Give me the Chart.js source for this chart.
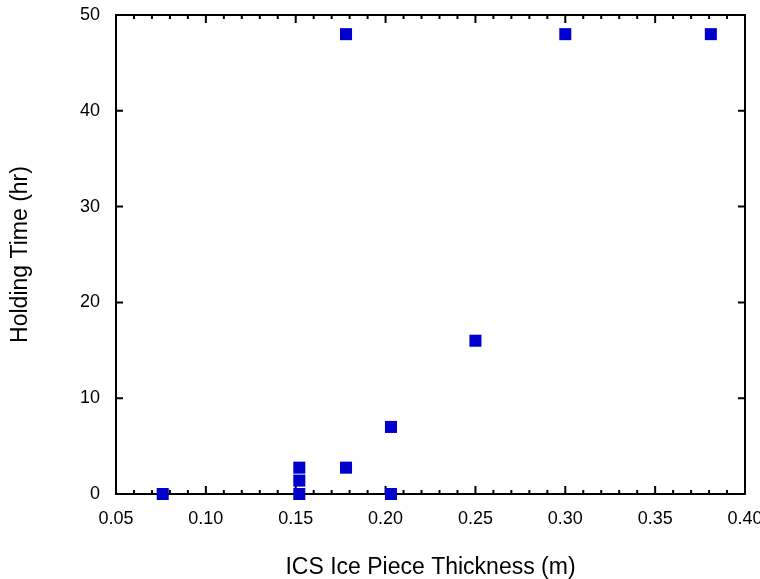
<!DOCTYPE html>
<html>
<head>
    <title>Holding Time vs Ice Piece Thickness</title>
    <script src="https://cdn.jsdelivr.net/npm/chart.js"></script>
    <style>
        body {
            margin: 0;
            background-color: #ffffff;
        }
        #wrap {
            width: 760px;
            height: 579px;
        }
    </style>
</head>
<body>
    <div id="wrap"><canvas id="holdingChart"></canvas></div>

    <script>
        // Data
        var thickness = [0.076, 0.152, 0.152, 0.152, 0.178, 0.178, 0.203, 0.203, 0.25, 0.30, 0.381];
        var holdingTime = [0, 0, 1.4, 2.75, 2.75, 48, 0, 7, 16, 48, 48];

        var xTitle = 'ICS Ice Piece Thickness (m)';
        var yTitle = 'Holding Time (hr)';

        var points = thickness.map(function(x, i) { return { x: x, y: holdingTime[i] }; });

        // Frame plus inward tick marks (gnuplot style)
        var framePlugin = {
            id: 'framePlugin',
            beforeDatasetsDraw: function(chart) {
                var ctx = chart.ctx;
                var area = chart.chartArea;
                var xs = chart.scales.x;
                var ys = chart.scales.y;
                ctx.save();
                ctx.strokeStyle = '#000';
                ctx.lineWidth = 2;
                ctx.strokeRect(area.left, area.top, area.right - area.left, area.bottom - area.top);

                ctx.beginPath();
                // x ticks: major + 4 minor between each pair
                var xPix = xs.ticks.map(function(t) { return xs.getPixelForValue(t.value); });
                xPix.forEach(function(px, i) {
                    ctx.moveTo(px, area.bottom); ctx.lineTo(px, area.bottom - 8);
                    ctx.moveTo(px, area.top); ctx.lineTo(px, area.top + 8);
                    if (i < xPix.length - 1) {
                        for (var k = 1; k < 5; k++) {
                            var mx = px + (xPix[i + 1] - px) * k / 5;
                            ctx.moveTo(mx, area.bottom); ctx.lineTo(mx, area.bottom - 4);
                            ctx.moveTo(mx, area.top); ctx.lineTo(mx, area.top + 4);
                        }
                    }
                });
                // y ticks: major only
                ys.ticks.forEach(function(t) {
                    var py = ys.getPixelForValue(t.value);
                    ctx.moveTo(area.left, py); ctx.lineTo(area.left + 7, py);
                    ctx.moveTo(area.right, py); ctx.lineTo(area.right - 7, py);
                });
                ctx.stroke();
                ctx.restore();
            }
        };

        var ctx = document.getElementById('holdingChart').getContext('2d');
        var holdingChart = new Chart(ctx, {
            type: 'scatter',
            plugins: [framePlugin],
            data: {
                datasets: [{
                    label: 'Holding Time',
                    data: points,
                    pointStyle: 'rect',
                    pointRadius: 8.5,
                    pointHoverRadius: 8.5,
                    pointBorderWidth: 0,
                    backgroundColor: '#0000cc',
                    borderColor: '#0000cc',
                    clip: false
                }]
            },
            options: {
                responsive: true,
                maintainAspectRatio: false,
                animation: false,
                layout: {
                    padding: { left: 0, right: 15, top: 15, bottom: 0 }
                },
                plugins: {
                    legend: { display: false },
                    tooltip: { enabled: false }
                },
                scales: {
                    x: {
                        type: 'linear',
                        min: 0.05,
                        max: 0.40,
                        grid: { display: false, drawTicks: false },
                        border: { display: false },
                        ticks: {
                            stepSize: 0.05,
                            autoSkip: false,
                            maxRotation: 0,
                            padding: 14,
                            color: '#000',
                            font: { family: 'Liberation Sans, Arial, sans-serif', size: 18 },
                            callback: function(value) { return value.toFixed(2); }
                        },
                        title: {
                            display: true,
                            text: xTitle,
                            color: '#000',
                            font: { family: 'Liberation Sans, Arial, sans-serif', size: 23, lineHeight: 1 },
                            padding: { top: 0, bottom: 0 }
                        },
                        afterFit: function(scale) {
                            scale.height = 85;
                            scale.paddingLeft = 0;
                            scale.paddingRight = 0;
                        }
                    },
                    y: {
                        type: 'linear',
                        min: 0,
                        max: 50,
                        grid: { display: false, drawTicks: false },
                        border: { display: false },
                        ticks: {
                            stepSize: 10,
                            padding: 16,
                            color: '#000',
                            font: { family: 'Liberation Sans, Arial, sans-serif', size: 18 }
                        },
                        title: {
                            display: true,
                            text: yTitle,
                            color: '#000',
                            font: { family: 'Liberation Sans, Arial, sans-serif', size: 23, lineHeight: 1 },
                            padding: { top: 9, bottom: 0 }
                        },
                        afterFit: function(scale) {
                            scale.width = 116;
                            scale.paddingTop = 0;
                            scale.paddingBottom = 0;
                        }
                    }
                }
            }
        });
    </script>
</body>
</html>
